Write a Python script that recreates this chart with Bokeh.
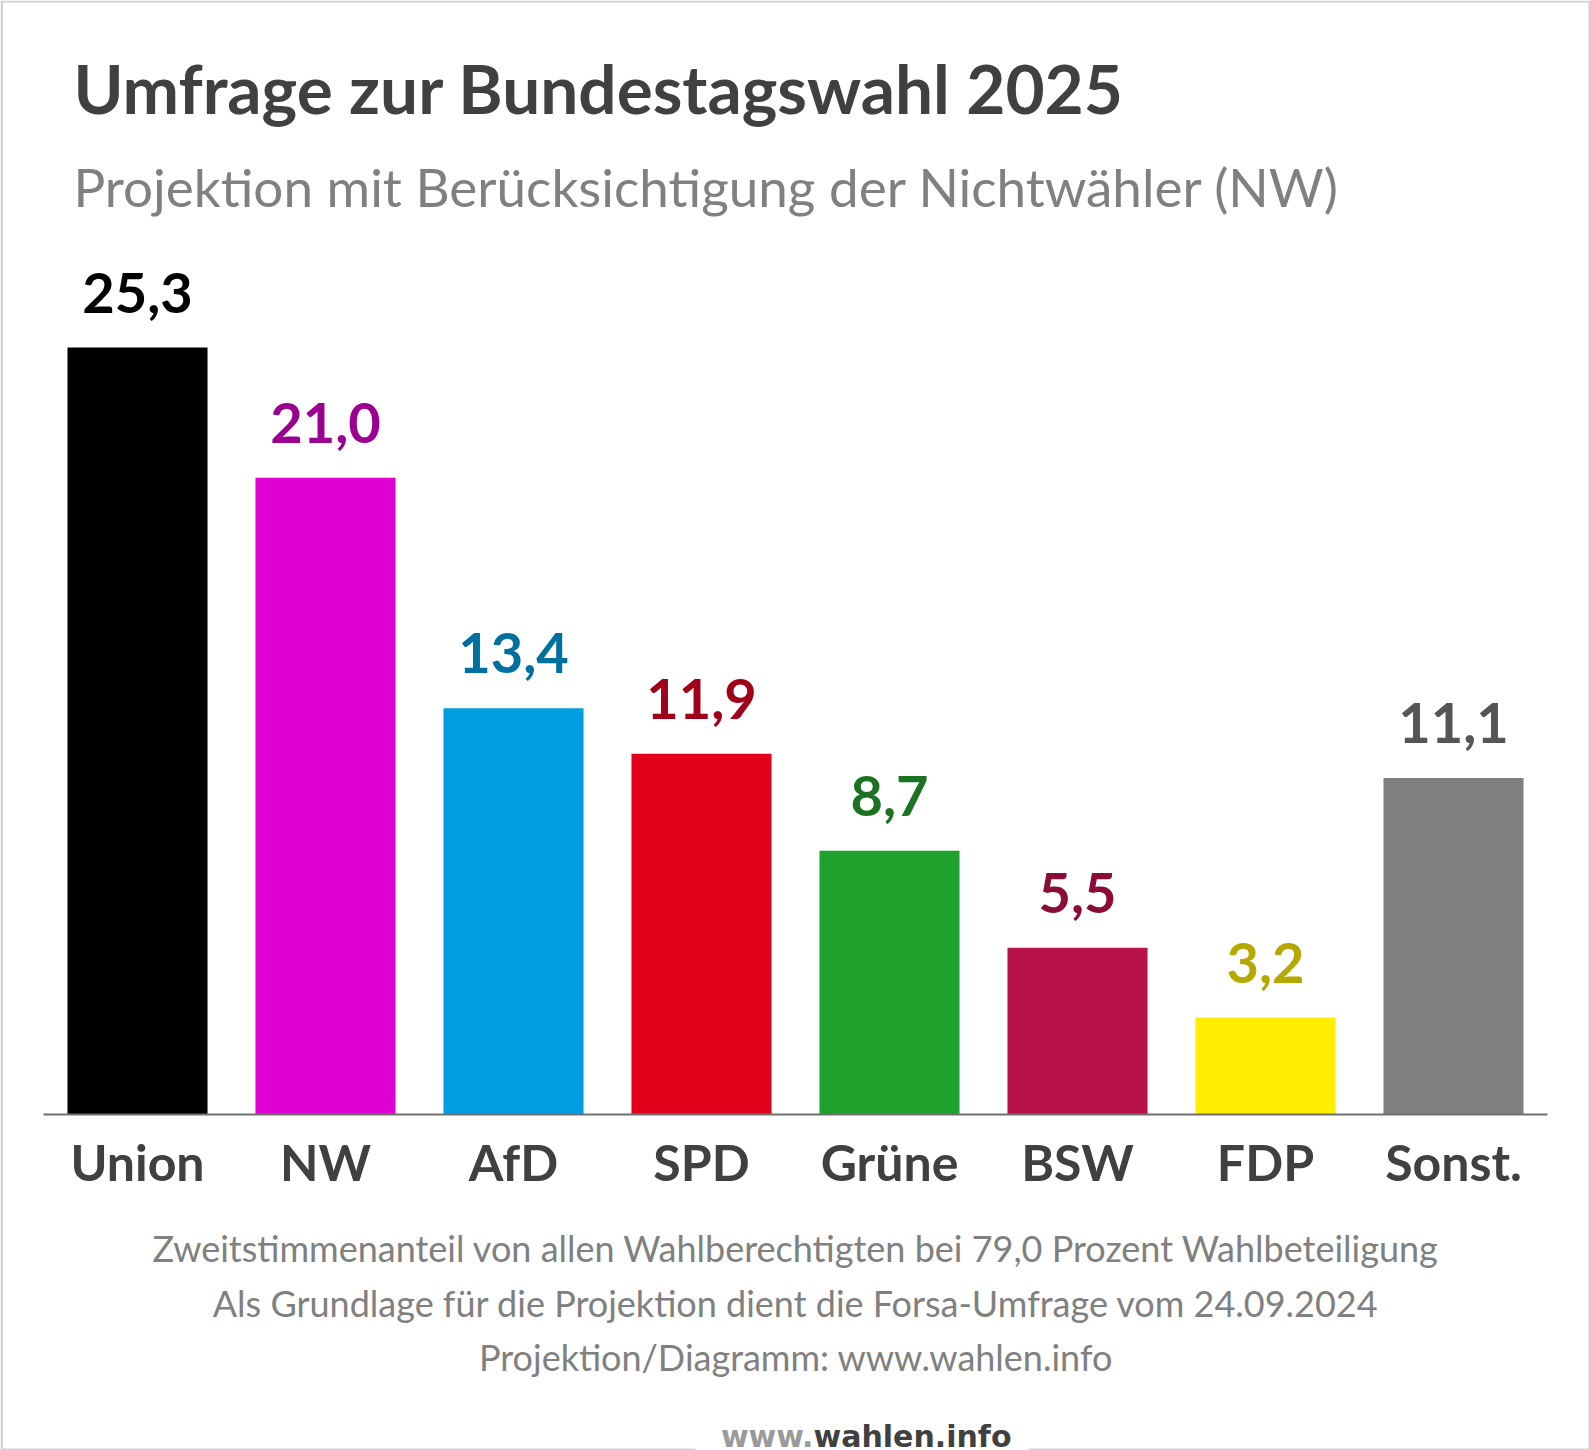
from bokeh.plotting import figure
from bokeh.models import ColumnDataSource, Range1d, BoxAnnotation
from bokeh.core.properties import value
from bokeh.embed import file_html
from bokeh.resources import INLINE

# ---- data ----
parties = ["Union", "NW", "AfD", "SPD", "Grüne", "BSW", "FDP", "Sonst."]
shares = [25.3, 21.0, 13.4, 11.9, 8.7, 5.5, 3.2, 11.1]
bar_colors = ["#000000", "#e000d2", "#009ee0", "#e3001b", "#1fa12e", "#b8124a", "#ffed00", "#808080"]
label_colors = ["#000000", "#9b0090", "#00709f", "#a00018", "#1b7221", "#8b0c39", "#b5a800", "#555555"]

title_text = "Umfrage zur Bundestagswahl 2025"
subtitle_text = "Projektion mit Berücksichtigung der Nichtwähler (NW)"
footer_lines = [
    "Zweitstimmenanteil von allen Wahlberechtigten bei 79,0 Prozent Wahlbeteiligung",
    "Als Grundlage für die Projektion dient die Forsa-Umfrage vom 24.09.2024",
    "Projektion/Diagramm: www.wahlen.info",
]

# ---- layout (pixels) ----
W, H = 1591, 1450
STEP = 188.0          # px per category
LEFT = 43.0           # px left of first category slot
BASE = 1114.0         # px of the baseline from top
PPU = 30.32           # px per percentage point
ASC = 0.37            # baseline correction factor (em)

x_start = -0.5 - LEFT / STEP
def dx(px):
    return x_start + px / STEP
def dy(py):
    return (BASE - py) / PPU

xs = list(range(len(parties)))
src = ColumnDataSource(dict(
    x=xs,
    party=parties,
    share=shares,
    zero=[0] * len(parties),
    label=[f"{v:.1f}".replace(".", ",") for v in shares],
    color=bar_colors,
    lcolor=label_colors,
))

p = figure(
    width=W, height=H, output_backend="svg", toolbar_location=None,
    x_range=Range1d(dx(0), dx(W)),
    y_range=Range1d(dy(H), dy(0)),
    min_border=0, background_fill_color="white", border_fill_color="white",
)
p.outline_line_color = None
p.grid.visible = False
p.axis.visible = False

p.vbar(x="x", top="share", bottom=0, width=0.745, fill_color="color", line_color=None, source=src)

# baseline (axis line)
p.segment(x0=[dx(LEFT)], y0=[0], x1=[dx(LEFT + STEP * len(parties))], y1=[0],
          line_color="#707070", line_width=2)

# value labels
p.text(x="x", y="share", text="label", text_color="lcolor", source=src,
       text_font=value("Lato"), text_font_style="bold", text_font_size="56px",
       text_align="center", text_baseline="alphabetic", y_offset=-34 - ASC * 56)

# category labels
p.text(x="x", y="zero", text="party", text_color="#404040", source=src,
       text_font=value("Lato"), text_font_style="bold", text_font_size="50px",
       text_align="center", text_baseline="alphabetic", y_offset=(1180 - BASE) - ASC * 50)

def txt(px, py, s, size, color, style="normal", align="left", font="Lato"):
    p.text(x=[dx(px)], y=[dy(py - ASC * size)], text=[s], text_color=color,
           text_font=value(font), text_font_style=style, text_font_size=f"{size}px",
           text_align=align, text_baseline="alphabetic")

txt(73, 112, title_text, 67.5, "#404040", style="bold")
txt(73, 206, subtitle_text, 53, "#808080")
for i, line in enumerate(footer_lines):
    txt(W / 2, 1261 + 54.5 * i, line, 36, "#808080", align="center")
txt(813, 1447, "www.", 30, "#9a9a9a", style="bold", align="right", font="DejaVu Sans")
txt(813, 1447, "wahlen.info", 30, "#404040", style="bold", align="left", font="DejaVu Sans")

border = "#d2d2d2"
def box(**kw):
    p.add_layout(BoxAnnotation(fill_color=border, fill_alpha=1, line_color=None, level="overlay", **kw))

box(right=dx(2.5))
box(left=dx(W - 3))
box(bottom=dy(2))
box(top=dy(H - 2), right=dx(695))
box(top=dy(H - 2), left=dx(1028))

open("out.html", "w").write(file_html(p, INLINE))
